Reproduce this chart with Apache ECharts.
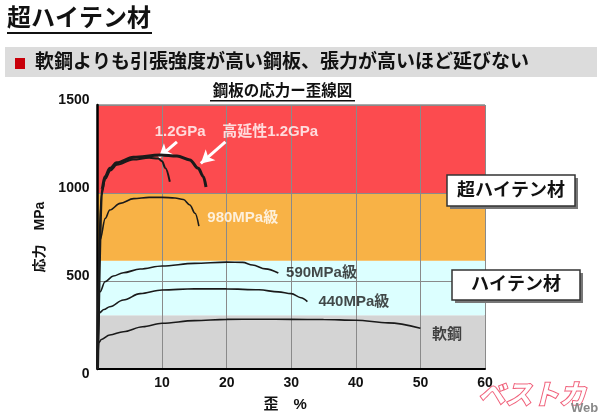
<!DOCTYPE html>
<html><head><meta charset="utf-8">
<script src="https://cdn.jsdelivr.net/npm/echarts@6/dist/echarts.min.js"></script>
<style>html,body{margin:0;padding:0;background:#fff}#c{width:600px;height:416px}</style>
</head><body><div id="c"></div>
<script>
// ---- data ----
const xTicks = [0, 10, 20, 30, 40, 50, 60];
const yTicks = [0, 500, 1000, 1500];
const bandEdges = [0, 305, 615, 1000, 1500];          // gray, cyan, orange, red
const bandColors = ['#d4d4d4', '#dcffff', '#f8b246', '#fc4b4f'];
const mildSteel = [[0,0],[0.2,150],[0.6,168],[1.9,193],[4,212],[7,240],[10,260],[15,275],[20,282],[25,283],[30,282],[35,281],[40,277],[45,262],[50,231]];
const mpa440 = [[0,0],[0.3,320],[1,338],[1.9,354],[4,392],[6.6,428],[10,449],[15,456],[20,455],[25,450],[28,438],[30,428],[31.5,405],[32.5,383]];
const mpa590 = [[0,0],[0.4,439],[1.16,496],[2.45,528],[4,547],[6.6,568],[10,585],[15,600],[20,607],[22.5,606],[24,591],[26,569],[28,545]];
const mpa980 = [[0,0],[0.4,733],[1.2,856],[1.9,903],[3.5,941],[5.6,968],[8,975],[10,975],[12,972],[13.3,963],[14.3,932],[15.1,885],[15.7,812]];
const gpa12 = [[0,0],[0.6,990],[1.2,1080],[2,1128],[3,1160],[5.5,1190],[8,1200],[9.4,1196],[10,1180],[10.5,1142],[11.2,1064]];
const gpa12HighDuct = [[0,0],[0.65,1017],[1.16,1093],[1.94,1140],[2.97,1172],[5.55,1203],[9.7,1216],[12.3,1210],[14.3,1188],[15.6,1140],[16.4,1093],[16.8,1034]];
const arrows = [[[12.3,1291],[9.5,1203]], [[19.8,1291],[16.0,1168]]];
const curveLabels = [
  {text:'1.2GPa', x:12.8, y:1347, white:true, center:true},
  {text:'高延性1.2GPa', x:19.3, y:1347, white:true},
  {text:'980MPa級', x:17.0, y:858, white:true},
  {text:'590MPa級', x:29.2, y:547},
  {text:'440MPa級', x:34.2, y:382},
  {text:'軟鋼', x:51.8, y:193}
];
const titleText = '超ハイテン材';
const bannerText = '軟鋼よりも引張強度が高い鋼板、張力が高いほど延びない';
const chartTitle = '鋼板の応力ー歪線図';
const xName = '歪　%';
const yName = '応力　MPa';
const boxTexts = ['超ハイテン材', 'ハイテン材'];

// ---- chart ----
const FF = '"Liberation Sans", Arial, "Noto Sans CJK JP", sans-serif';
const chart = echarts.init(document.getElementById('c'), null, {renderer:'canvas'});

const bandAreas = bandColors.map((c,i)=>[{yAxis:bandEdges[i], itemStyle:{color:c, opacity:1}},{yAxis:bandEdges[i+1]}]);

function curve(data, width){
  return {type:'line', data, showSymbol:false, smooth:0.35, smoothMonotone:'x', z:5, silent:true,
    lineStyle:{color:'#1a1a1a', width}};
}

const option = {
  animation:false,
  textStyle:{fontFamily:FF},
  grid:{left:97.5, right:115, top:105, bottom:47, outerBoundsMode:'none', containLabel:false,
    show:true, borderColor:'#555', borderWidth:1, backgroundColor:'transparent', z:0},
  xAxis:{type:'value', min:0, max:60, interval:10, z:3,
    axisLine:{show:true, onZero:false, lineStyle:{color:'#000', width:2}},
    axisTick:{show:false},
    splitLine:{show:true, lineStyle:{color:'#8a8a8a', width:1}},
    axisLabel:{fontFamily:FF, fontSize:14, fontWeight:'bold', color:'#111', margin:7,
      formatter:v=>xTicks.includes(v)&&v!==0?String(v):''},
    name:xName, nameLocation:'middle', nameGap:28,
    nameTextStyle:{fontFamily:FF, fontSize:15, fontWeight:'bold', color:'#111', padding:[0,12,0,0]}
  },
  yAxis:{type:'value', min:0, max:1500, interval:500, z:3,
    axisLine:{show:true, onZero:false, lineStyle:{color:'#000', width:2.5}},
    axisTick:{show:false},
    splitLine:{show:true, lineStyle:{color:'#8a8a8a', width:1}},
    axisLabel:{fontFamily:FF, fontSize:14, fontWeight:'bold', color:'#111', margin:8,
      formatter:v=>yTicks.includes(v)?(v===0?'{z|0}':'{n|'+v+'}'):'',
      rich:{n:{fontFamily:FF, fontSize:14, fontWeight:'bold', color:'#111', padding:[0,0,9,0]},
            z:{fontFamily:FF, fontSize:14, fontWeight:'bold', color:'#111', padding:[10,0,0,0]}}},
    name:yName, nameLocation:'middle', nameGap:50, nameRotate:90,
    nameTextStyle:{fontFamily:FF, fontSize:14, fontWeight:'bold', color:'#111'}
  },
  series:[
    {type:'line', data:[], z:1, silent:true, markArea:{silent:true, data:bandAreas}},
    curve(mildSteel,1.6),
    curve(mpa440,1.6),
    curve(mpa590,1.6),
    curve(mpa980,1.6),
    curve(gpa12,2),
    curve(gpa12HighDuct,3),
    {type:'line', data:[], z:6, silent:true,
      markLine:{silent:true, symbol:['none','arrow'], symbolSize:[11,13], animation:false,
        lineStyle:{color:'#fff', width:3, type:'solid'}, label:{show:false},
        data:arrows.map(a=>[{coord:a[0]},{coord:a[1]}])}},
    {type:'scatter', z:7, silent:true, symbolSize:0,
      data:curveLabels.map(l=>({value:[l.x,l.y], label:{show:true, formatter:l.text,
        position:l.center?'inside':'right', distance:0,
        color:l.white?'#fff':'#1a1a1a', fontFamily:FF, fontSize:15, fontWeight:'bold'}}))}
  ],
  graphic:[
    {type:'text', left:7, top:7, style:{text:titleText, font:'bold 24px '+FF, fill:'#111'}},
    {type:'rect', shape:{x:7, y:32, width:145, height:2}, style:{fill:'#111'}},
    {type:'rect', shape:{x:5, y:47, width:592, height:30}, style:{fill:'#dcdcdc'}, z:-1},
    {type:'rect', shape:{x:15, y:58, width:10, height:11}, style:{fill:'#c8000a'}},
    {type:'text', x:35, y:63, style:{text:bannerText, font:'bold 19px '+FF, fill:'#111', verticalAlign:'middle'}},
    {type:'text', x:282.5, y:92, style:{text:chartTitle, font:'bold 15.5px '+FF, fill:'#111', align:'center', verticalAlign:'middle'}},
    {type:'rect', shape:{x:210, y:100, width:145, height:1.5}, style:{fill:'#111'}},
    // boxes
    {type:'rect', shape:{x:450, y:178, width:128, height:31}, style:{fill:'#777'}, z:10},
    {type:'rect', shape:{x:447, y:175, width:128, height:31}, style:{fill:'#fff', stroke:'#333', lineWidth:1.5}, z:11},
    {type:'text', x:511, y:191, style:{text:boxTexts[0], font:'bold 18px '+FF, fill:'#111', align:'center', verticalAlign:'middle'}, z:12},
    {type:'rect', shape:{x:455, y:273, width:128, height:30}, style:{fill:'#777'}, z:10},
    {type:'rect', shape:{x:452, y:270, width:128, height:30}, style:{fill:'#fff', stroke:'#333', lineWidth:1.5}, z:11},
    {type:'text', x:516, y:285.5, style:{text:boxTexts[1], font:'bold 18px '+FF, fill:'#111', align:'center', verticalAlign:'middle'}, z:12},
    // watermark
    {type:'text', x:478, y:397, style:{text:'ベストカ', font:'italic bold 27px '+FF, fill:'#fff', stroke:'#f0607a', lineWidth:2, verticalAlign:'middle'}, z:20},
    {type:'text', x:571, y:408, style:{text:'Web', font:'bold 13px '+FF, fill:'#888', verticalAlign:'middle'}, z:20}
  ]
};
chart.setOption(option);
</script></body></html>
